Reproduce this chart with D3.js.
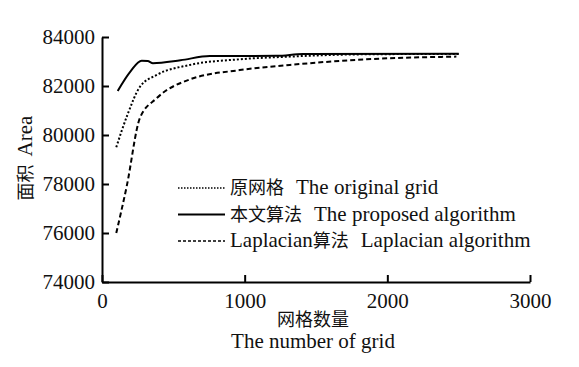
<!DOCTYPE html>
<html>
<head>
<meta charset="utf-8">
<script src="https://cdn.jsdelivr.net/npm/d3@7"></script>
<style>
  body { margin: 0; background: #fff; }
  svg { display: block; }
</style>
</head>
<body>
<div id="chart"></div>
<script>
// grid counts and areas
const originalX = [100, 180, 266, 383, 616, 966, 1317, 1786, 2500];
const originalY = [79500, 80850, 81970, 82450, 82860, 83090, 83200, 83290, 83310];

const proposedX = [110, 200, 278, 320, 357, 550, 756, 1225, 1408, 2500];
const proposedY = [81800, 82600, 83030, 83020, 82930, 83050, 83225, 83230, 83310, 83320];

const laplacianX = [100, 173, 266, 383, 616, 966, 1317, 1853, 2484];
const laplacianY = [76000, 77900, 80700, 81500, 82270, 82650, 82860, 83090, 83200];

const xTicks = [0, 1000, 2000, 3000];
const yTicks = [74000, 76000, 78000, 80000, 82000, 84000];

const legendLabels = [
  ["原网格", "The original grid"],
  ["本文算法", "The proposed algorithm"],
  ["Laplacian算法", "Laplacian algorithm"]
];

const width = 579, height = 367;
const serif = "Liberation Serif";
const cjk = "Noto Sans CJK SC";

const svg = d3.select("#chart").append("svg")
    .attr("width", width)
    .attr("height", height);

const x = d3.scaleLinear().domain([0, 3000]).range([102, 530]);
const y = d3.scaleLinear().domain([74000, 84000]).range([282, 37]);

// axes (ticks point inward)
const xAxis = svg.append("g")
    .attr("transform", `translate(0,${y(74000)})`)
    .call(d3.axisBottom(x).tickValues(xTicks).tickFormat(d3.format("d"))
      .tickSizeInner(-7).tickSizeOuter(0).tickPadding(11));
const yAxis = svg.append("g")
    .attr("transform", `translate(${x(0)},0)`)
    .call(d3.axisLeft(y).tickValues(yTicks).tickFormat(d3.format("d"))
      .tickSizeInner(-7).tickSizeOuter(0).tickPadding(7));

[xAxis, yAxis].forEach(g => {
  g.attr("font-family", serif).attr("font-size", 21);
  g.select(".domain").attr("stroke", "#000").attr("stroke-width", 2);
  g.selectAll(".tick line").attr("stroke", "#000").attr("stroke-width", 2);
  g.selectAll(".tick text").attr("fill", "#111");
});

// series
const line = d3.line()
    .x(d => x(d[0]))
    .y(d => y(d[1]))
    .curve(d3.curveMonotoneX);

const series = [
  { xs: originalX, ys: originalY, dash: "2,2" },
  { xs: proposedX, ys: proposedY, dash: null },
  { xs: laplacianX, ys: laplacianY, dash: "5,3" }
];

series.forEach(s => {
  svg.append("path")
      .datum(s.xs.map((v, i) => [v, s.ys[i]]))
      .attr("fill", "none")
      .attr("stroke", "#000")
      .attr("stroke-width", 2)
      .attr("stroke-dasharray", s.dash)
      .attr("d", line);
});

// legend
const legend = svg.append("g");
legendLabels.forEach((lab, i) => {
  const ly = 188 + i * 26.5;
  legend.append("line")
      .attr("x1", 178).attr("x2", 225)
      .attr("y1", ly).attr("y2", ly)
      .attr("stroke", "#000")
      .attr("stroke-width", i === 1 ? 2 : 1.5)
      .attr("stroke-dasharray", i === 0 ? "1.5,1.5" : (i === 2 ? "3,2" : null));
  const t = legend.append("text")
      .attr("x", 230).attr("y", ly + 6)
      .attr("fill", "#111")
      .attr("font-family", serif)
      .attr("font-size", 21);
  if (i === 2) {
    t.append("tspan").text("Laplacian");
    t.append("tspan").attr("font-family", cjk).attr("font-size", 18).text("算法");
  } else {
    t.append("tspan").attr("font-family", cjk).attr("font-size", 18).text(lab[0]);
  }
  t.append("tspan").attr("dx", 12).text(lab[1]);
});

// axis titles
svg.append("text")
    .attr("x", 313).attr("y", 326)
    .attr("text-anchor", "middle")
    .attr("fill", "#111")
    .attr("font-family", cjk)
    .attr("font-size", 18)
    .text("网格数量");
svg.append("text")
    .attr("x", 313).attr("y", 348)
    .attr("text-anchor", "middle")
    .attr("fill", "#111")
    .attr("font-family", serif)
    .attr("font-size", 21)
    .text("The number of grid");

const yt = svg.append("text")
    .attr("transform", "translate(32,158) rotate(-90)")
    .attr("text-anchor", "middle")
    .attr("fill", "#111");
yt.append("tspan").attr("font-family", cjk).attr("font-size", 18).text("面积");
yt.append("tspan").attr("dx", 8).attr("font-family", serif).attr("font-size", 21).text("Area");
</script>
</body>
</html>
